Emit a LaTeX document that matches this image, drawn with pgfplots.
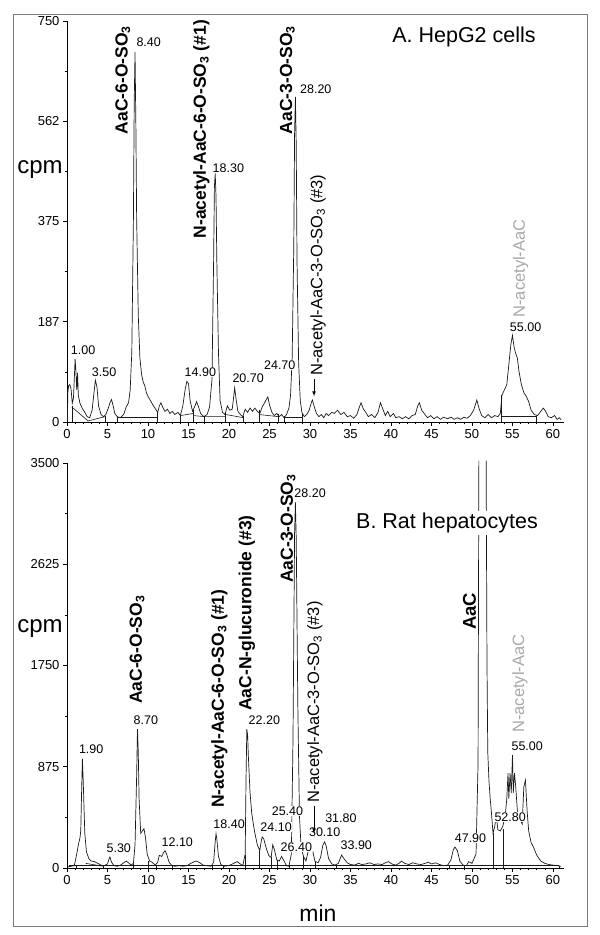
\documentclass[border=0pt]{standalone}
\usepackage{fontspec}
\setmainfont{Liberation Sans}
\usepackage{pgfplots}
\pgfplotsset{compat=1.18}
\definecolor{trace}{HTML}{1A1A1A}
\definecolor{lblgray}{HTML}{A8A8A8}
\definecolor{framegray}{HTML}{7A7A7A}
\newcommand{\fs}[1]{\fontsize{#1pt}{#1pt}\selectfont}

\pgfplotstableread{
x y
0.05 0
0.1 55
0.2 68
0.35 70
0.5 62
0.65 35
0.8 45
0.9 80
1.0 118
1.1 95
1.2 60
1.3 92
1.4 50
1.6 35
1.9 25
2.2 18
2.5 10
2.8 8
3.1 22
3.3 50
3.5 78
3.7 66
3.9 30
4.2 14
4.5 10
4.8 14
5.1 26
5.3 36
5.5 42
5.7 30
5.9 16
6.2 10
6.6 8
7.0 14
7.3 28
7.6 36
7.8 60
8.0 130
8.2 380
8.3 600
8.4 692
8.5 560
8.6 380
8.8 200
9.0 120
9.2 90
9.4 75
9.6 68
9.8 55
10.0 48
10.3 40
10.6 32
10.9 25
11.2 18
11.4 30
11.6 36
11.8 28
12.1 20
12.4 24
12.7 16
13.0 20
13.3 14
13.7 18
14.0 12
14.3 30
14.6 62
14.8 76
15.0 72
15.2 40
15.5 20
15.8 30
16.0 38
16.2 30
16.5 16
16.9 10
17.3 14
17.6 28
17.9 80
18.1 300
18.2 440
18.3 465
18.4 420
18.5 300
18.7 130
18.9 40
19.2 18
19.5 14
19.8 30
20.1 22
20.4 24
20.6 50
20.7 64
20.9 40
21.1 20
21.4 14
21.7 10
22.0 24
22.3 18
22.6 26
22.9 20
23.2 26
23.5 20
23.8 16
24.1 28
24.4 36
24.6 42
24.8 47
25.0 32
25.3 18
25.6 12
25.9 16
26.2 10
26.5 14
26.8 8
27.1 14
27.4 26
27.6 50
27.8 120
28.0 330
28.1 540
28.2 608
28.3 520
28.4 300
28.6 110
28.8 40
29.0 18
29.3 10
29.6 14
29.9 22
30.2 38
30.3 41
30.5 30
30.8 16
31.1 10
31.4 14
31.7 8
32.0 16
32.3 12
32.7 18
33.0 16
33.4 22
33.8 14
34.2 18
34.6 10
35.0 12
35.4 7
35.8 14
36.1 28
36.3 36
36.6 24
36.9 18
37.2 10
37.6 14
38.0 8
38.4 18
38.7 36
39.0 24
39.3 12
39.6 20
39.9 10
40.3 16
40.6 8
41.0 10
41.4 6
41.8 10
42.2 6
42.6 12
43.0 14
43.3 30
43.5 36
43.8 22
44.1 16
44.5 8
44.9 12
45.3 6
45.7 10
46.1 5
46.5 9
47.0 6
47.4 9
47.8 5
48.2 8
48.6 5
49.0 9
49.4 7
49.8 12
50.2 22
50.6 41
50.9 24
51.2 12
51.6 8
52.0 14
52.4 8
52.8 12
53.2 10
53.5 16
53.7 50
54.0 60
54.3 70
54.5 100
54.8 145
55.0 162
55.2 140
55.4 128
55.6 120
55.8 95
56.1 70
56.4 55
56.7 48
57.0 38
57.3 22
57.7 14
58.1 12
58.5 20
58.8 26
59.1 20
59.4 10
59.8 8
60.2 12
60.5 5
60.8 8
61.0 4
}\hepg

\pgfplotstableread{
x y
0.1 10
0.5 15
0.9 20
1.2 120
1.4 200
1.6 260
1.7 320
1.8 650
1.9 945
2.0 760
2.1 520
2.2 300
2.4 140
2.7 80
3.0 60
3.4 55
3.8 40
4.2 25
4.6 20
5.0 35
5.2 80
5.3 95
5.5 50
5.8 20
6.2 15
6.6 25
7.0 45
7.3 60
7.6 45
7.9 25
8.2 40
8.4 200
8.6 800
8.7 1200
8.8 1000
8.9 600
9.1 300
9.3 320
9.5 340
9.7 260
9.9 120
10.2 60
10.5 50
10.9 25
11.2 50
11.4 110
11.7 100
11.9 130
12.1 150
12.3 120
12.6 50
12.9 25
13.3 15
13.8 20
14.3 15
14.8 20
15.3 40
15.7 55
16.0 60
16.4 45
16.8 25
17.3 20
17.8 15
18.1 50
18.3 230
18.4 295
18.5 250
18.7 100
19.0 30
19.4 15
19.9 20
20.3 30
20.7 45
21.0 55
21.3 40
21.7 20
22.0 120
22.1 750
22.2 1200
22.3 1150
22.4 950
22.6 650
22.8 480
23.0 380
23.2 300
23.5 200
23.8 150
24.0 240
24.1 268
24.3 250
24.6 170
24.9 110
25.2 90
25.4 200
25.6 160
25.9 70
26.2 60
26.5 100
26.8 60
27.1 20
27.4 15
27.7 120
27.9 1100
28.1 2900
28.2 3160
28.3 2850
28.5 1400
28.7 450
28.9 180
29.2 100
29.5 60
29.8 150
30.1 207
30.3 160
30.6 60
31.0 45
31.3 90
31.6 200
31.8 225
32.0 190
32.3 80
32.7 35
33.1 25
33.5 40
33.9 112
34.2 80
34.6 45
35.0 30
35.5 25
36.0 40
36.4 30
36.9 35
37.4 45
37.9 30
38.4 35
38.9 30
39.3 45
39.7 55
40.1 35
40.6 25
41.0 40
41.3 60
41.7 40
42.2 30
42.7 45
43.2 35
43.7 30
44.2 40
44.6 50
45.0 35
45.5 45
46.0 30
46.5 20
47.0 25
47.4 70
47.7 160
47.9 181
48.2 150
48.5 60
48.9 25
49.3 20
49.6 55
50.0 40
50.5 120
50.75 900
50.85 3520
51.3 nan
51.75 3520
51.85 1800
51.95 1000
52.1 750
52.25 600
52.4 480
52.6 300
52.8 355
53.0 450
53.2 330
53.5 320
53.8 360
54.1 450
54.3 600
54.45 820
54.55 600
54.7 820
54.85 650
55.0 976
55.1 650
55.25 820
55.4 700
55.6 500
55.9 420
56.2 380
56.4 700
56.6 760
56.8 500
57.0 320
57.3 220
57.6 180
58.0 110
58.5 60
59.0 40
59.5 30
60.0 25
60.5 20
61.0 15
}\rat

\pgfplotsset{chrom/.style={
  scale only axis, width=496.5pt, clip=false,
  xmin=0, xmax=61.3, ymin=0,
  axis lines=left, axis line style={-, line width=0.8pt, black},
  xtick={0,5,...,60}, minor x tick num=4,
  tick align=outside, major tick length=4pt, minor tick length=2.5pt,
  tick style={black, line width=0.6pt},
  ticklabel style={font=\fs{13}},
  /pgf/number format/assume math mode=true,
  minor y tick num=1,
  unbounded coords=jump,
}}
\tikzset{
  tr/.style={trace, line width=0.7pt, mark=none},
  bl/.style={trace, line width=0.6pt, mark=none},
  vl/.style={anchor=south west, inner sep=0.5pt, font=\fs{12.5}, fill=white},
  cl/.style={rotate=90, anchor=west, inner sep=0pt, font=\fs{17.5}\bfseries},
  clr/.style={rotate=90, anchor=west, inner sep=0pt, font=\fs{16.5}},
}

\begin{document}
\begin{tikzpicture}
\path[use as bounding box] (0pt,0pt) rectangle (600pt,935pt);
\draw[framegray, line width=0.8pt] (13pt,9pt) rectangle (587pt,921pt);

% ---------- A. HepG2 ----------
\begin{axis}[chrom, at={(67pt,513pt)}, anchor=south west, height=401pt,
  ymax=750, ytick={0,187.5,375,562.5,750}, yticklabels={0,187,375,562,750}]
\addplot[tr] table[x=x,y=y]{\hepg};
\addplot[bl, ycomb] coordinates {(0.6,30) (4.7,12) (6.2,10) (11.1,20) (14.0,15) (15.6,22) (17.0,12) (19.6,18) (21.8,12) (23.7,22) (26.1,15) (26.8,12) (29.1,15) (53.6,50) (58.0,12)};
\addplot[bl] coordinates {(0.6,28) (2.6,2) (4.7,10)};
\addplot[bl] coordinates {(6.2,9) (11.1,9)};
\addplot[bl] coordinates {(14.0,12) (15.6,16)};
\addplot[bl] coordinates {(15.6,12) (17.0,10) (19.6,10)};
\addplot[bl] coordinates {(19.6,14) (21.8,8)};
\addplot[bl] coordinates {(23.7,14) (26.1,10)};
\addplot[bl] coordinates {(26.8,9) (29.1,9)};
\addplot[bl] coordinates {(53.6,10) (58.0,10)};
% peak labels
\node[vl] at (axis cs:0.4,124) {1.00};
\node[vl] at (axis cs:3.0,84) {3.50};
\node[vl] at (axis cs:8.5,700) {8.40};
\node[vl] at (axis cs:14.45,84) {14.90};
\node[vl] at (axis cs:17.9,466) {18.30};
\node[vl] at (axis cs:20.35,72) {20.70};
\node[vl] at (axis cs:24.25,97) {24.70};
\node[vl] at (axis cs:28.7,612) {28.20};
\node[vl] at (axis cs:54.6,167) {55.00};
% compound labels
\node[cl] at (axis cs:6.9,538) {AaC-6-O-SO\textsubscript{3}};
\node[cl] at (axis cs:16.6,343) {N-acetyl-AaC-6-O-SO\textsubscript{3} (\#1)};
\node[cl] at (axis cs:27.2,538) {AaC-3-O-SO\textsubscript{3}};
\node[clr] at (axis cs:31.0,86) {N-acetyl-AaC-3-O-SO\textsubscript{3} (\#3)};
\node[clr, text=lblgray] at (axis cs:56.0,195) {N-acetyl-AaC};
\draw[-latex, line width=0.7pt] (axis cs:30.5,80) -- (axis cs:30.5,48);
\end{axis}

% ---------- B. Rat hepatocytes ----------
\begin{axis}[chrom, at={(67pt,67pt)}, anchor=south west, height=405pt,
  ymax=3500, ytick={0,875,1750,2625,3500}, yticklabels={0,875,1750,2625,3500}]
\addplot[tr] table[x=x,y=y]{\rat};
\addplot[bl] coordinates {(0.3,25) (60.8,25)};
\addplot[bl] coordinates {(2.3,40) (4.5,15)};
\addplot[bl, ycomb] coordinates {(1.1,30) (4.5,20) (8.2,35) (10.0,60) (11.0,30) (13.0,25) (18.0,25) (19.3,20) (22.0,110) (23.8,150) (25.2,95) (26.0,65) (27.4,20) (29.2,100) (30.7,55) (33.3,30) (47.2,30) (49.0,22) (52.6,300) (53.9,340) (60.8,15)};
% peak labels
\node[vl] at (axis cs:1.4,985) {1.90};
\node[vl] at (axis cs:4.8,130) {5.30};
\node[vl] at (axis cs:8.15,1235) {8.70};
\node[vl] at (axis cs:11.6,181) {12.10};
\node[vl] at (axis cs:18.0,330) {18.40};
\node[vl] at (axis cs:22.35,1235) {22.20};
\node[vl] at (axis cs:25.2,449) {25.40};
\node[vl] at (axis cs:23.8,311) {24.10};
\node[vl] at (axis cs:26.3,138) {26.40};
\node[vl] at (axis cs:28.0,3195) {28.20};
\node[vl] at (axis cs:29.8,268) {30.10};
\node[vl] at (axis cs:31.8,389) {31.80};
\node[vl] at (axis cs:33.7,155) {33.90};
\node[vl] at (axis cs:47.8,216) {47.90};
\node[vl] at (axis cs:52.7,397) {52.80};
\node[vl] at (axis cs:54.8,1011) {55.00};
% compound labels
\node[cl] at (axis cs:8.65,1417) {AaC-6-O-SO\textsubscript{3}};
\node[cl] at (axis cs:18.8,518) {N-acetyl-AaC-6-O-SO\textsubscript{3} (\#1)};
\node[cl] at (axis cs:22.2,1357) {AaC-N-glucuronide (\#3)};
\node[cl] at (axis cs:27.3,2463) {AaC-3-O-SO\textsubscript{3}};
\node[clr] at (axis cs:30.6,562) {N-acetyl-AaC-3-O-SO\textsubscript{3} (\#3)};
\node[cl, font=\fs{18.5}\bfseries] at (axis cs:49.7,2057) {AaC};
\node[clr, text=lblgray] at (axis cs:55.9,1167) {N-acetyl-AaC};
\draw[-latex, line width=0.7pt] (axis cs:30.5,540) -- (axis cs:30.5,300);
\end{axis}

% titles and axis names
\node[font=\fs{21.5}, inner sep=0pt] at (464pt,898pt) {A. HepG2 cells};
\node[font=\fs{21.5}, fill=white, inner sep=2pt] at (447pt,412pt) {B. Rat hepatocytes};
\node[font=\fs{24}, inner sep=0pt] at (40pt,765pt) {cpm};
\node[font=\fs{24}, inner sep=0pt] at (40pt,306pt) {cpm};
\node[font=\fs{23}, inner sep=0pt] at (318pt,22pt) {min};
\end{tikzpicture}
\end{document}
